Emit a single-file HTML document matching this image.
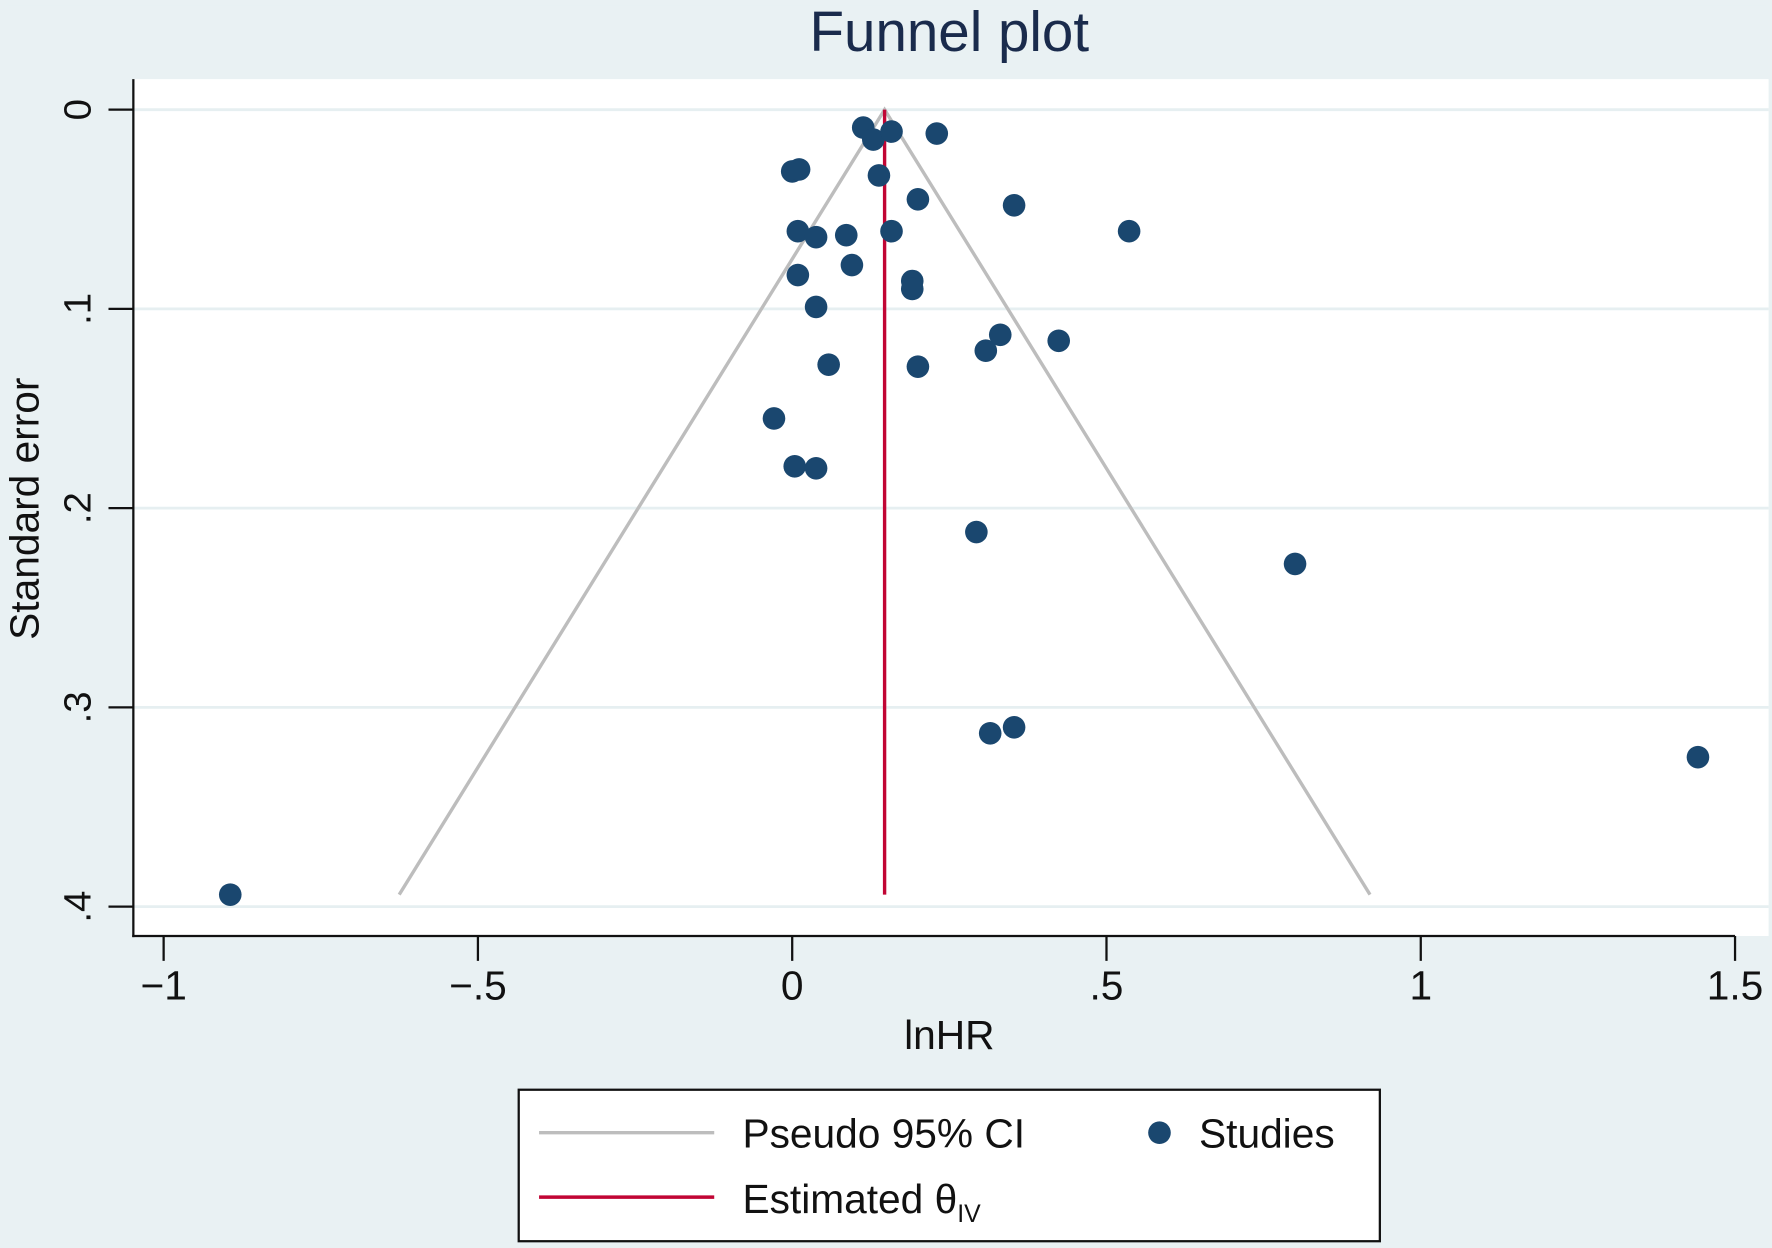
<!DOCTYPE html>
<html><head><meta charset="utf-8"><style>
html,body{margin:0;padding:0;background:#e9f1f3}
svg{display:block;font-family:"Liberation Sans",sans-serif}
</style></head><body>
<svg id="chart" width="1772" height="1248" viewBox="0 0 1568 1104" preserveAspectRatio="none">
<rect x="0" y="0" width="1568" height="1104" fill="#e9f1f3"/>
<rect x="5" y="5" width="1558" height="1094" fill="#e9f1f3"/>
<rect x="118" y="70" width="1447" height="758" fill="#ffffff"/>
<text x="840" y="45" font-size="50" text-anchor="middle" fill="#1a2b4c">Funnel plot</text>
<g id="grid"></g>
<g id="funnel"></g>
<g id="axes"></g>
<g id="points"></g>
<text x="840" y="928" font-size="36" text-anchor="middle" fill="#111">lnHR</text>
<text transform="translate(34,450) rotate(-90)" font-size="36" text-anchor="middle" fill="#111">Standard error</text>
<g>
<rect x="459" y="964" width="762" height="134" fill="#fff" stroke="#111" stroke-width="2"/>
<line x1="477" y1="1002" x2="632" y2="1002" stroke="#bdbdbd" stroke-width="3"/>
<text x="657" y="1015" font-size="36" fill="#111">Pseudo 95% CI</text>
<circle cx="1026" cy="1002" r="10" fill="#1a476f"/>
<text x="1061" y="1015" font-size="36" fill="#111">Studies</text>
<line x1="477" y1="1059" x2="632" y2="1059" stroke="#c10534" stroke-width="3"/>
<text x="657" y="1073" font-size="36" fill="#111">Estimated θ<tspan font-size="22" dy="8">IV</tspan></text>
</g>
</svg>
<script>
const xTicks=[-1,-0.5,0,0.5,1,1.5];
const xTickLabels=["−1","−.5","0",".5","1","1.5"];
const yTicks=[0,0.1,0.2,0.3,0.4];
const yTickLabels=["0",".1",".2",".3",".4"];
const studyLnHR=[0.113,0.129,0.158,0.230,0.0,0.011,0.138,0.200,0.353,0.536,0.009,0.038,0.086,0.158,0.095,0.009,0.191,0.191,0.038,0.331,0.424,0.308,0.058,0.200,-0.029,0.004,0.038,0.293,0.800,0.315,0.353,1.441,-0.894];
const studySE=[0.009,0.015,0.011,0.012,0.031,0.030,0.033,0.045,0.048,0.061,0.061,0.064,0.063,0.061,0.078,0.083,0.086,0.090,0.099,0.113,0.116,0.121,0.128,0.129,0.155,0.179,0.180,0.212,0.228,0.313,0.310,0.325,0.394];
const theta=[0.147];
const seMax=[0.394];
const NS='http://www.w3.org/2000/svg';
const X=v=>701+v*556.2;
const Y=v=>97+v*1762.5;
function mk(tag,attrs,parent){const e=document.createElementNS(NS,tag);for(const k in attrs)e.setAttribute(k,attrs[k]);document.getElementById(parent).appendChild(e);return e;}
yTicks.forEach((t,i)=>{
 const g=mk('line',{x1:118,x2:1565,y1:Y(t),y2:Y(t),stroke:'#e6eff1','stroke-width':2.5},'grid');
 
 
 const tk=mk('line',{x1:96,x2:118,y1:Y(t),y2:Y(t),stroke:'#111','stroke-width':2},'axes');
 
 
 const tx=mk('text',{transform:`translate(${80},${Y(t)}) rotate(-90)`,'font-size':34,'text-anchor':'middle',fill:'#111'},'axes');
 tx.textContent=yTickLabels[i];
 
 
});
xTicks.forEach((t,i)=>{
 const tk=mk('line',{x1:X(t),x2:X(t),y1:828,y2:850,stroke:'#111','stroke-width':2},'axes');
 
 
 const tx=mk('text',{x:X(t),y:884,'font-size':36,'text-anchor':'middle',fill:'#111'},'axes');
 tx.textContent=xTickLabels[i];
 
 
});
const ya=mk('line',{x1:118,x2:118,y1:70,y2:829,stroke:'#111','stroke-width':2},'axes');


const xa=mk('line',{x1:117,x2:X(1.5),y1:828,y2:828,stroke:'#111','stroke-width':2},'axes');


const th=theta[0],sm=seMax[0];
const f=mk('polyline',{points:`${X(th-1.96*sm)},${Y(sm)} ${X(th)},${Y(0)} ${X(th+1.96*sm)},${Y(sm)}`,fill:'none',stroke:'#bdbdbd','stroke-width':3},'funnel');


const el=mk('line',{x1:X(th),x2:X(th),y1:Y(0),y2:Y(sm),stroke:'#c10534','stroke-width':3},'funnel');


studyLnHR.forEach((v,i)=>{
 const c=mk('circle',{cx:X(v),cy:Y(studySE[i]),r:10,fill:'#1a476f'},'points');
 
 
});
</script>
</body></html>
